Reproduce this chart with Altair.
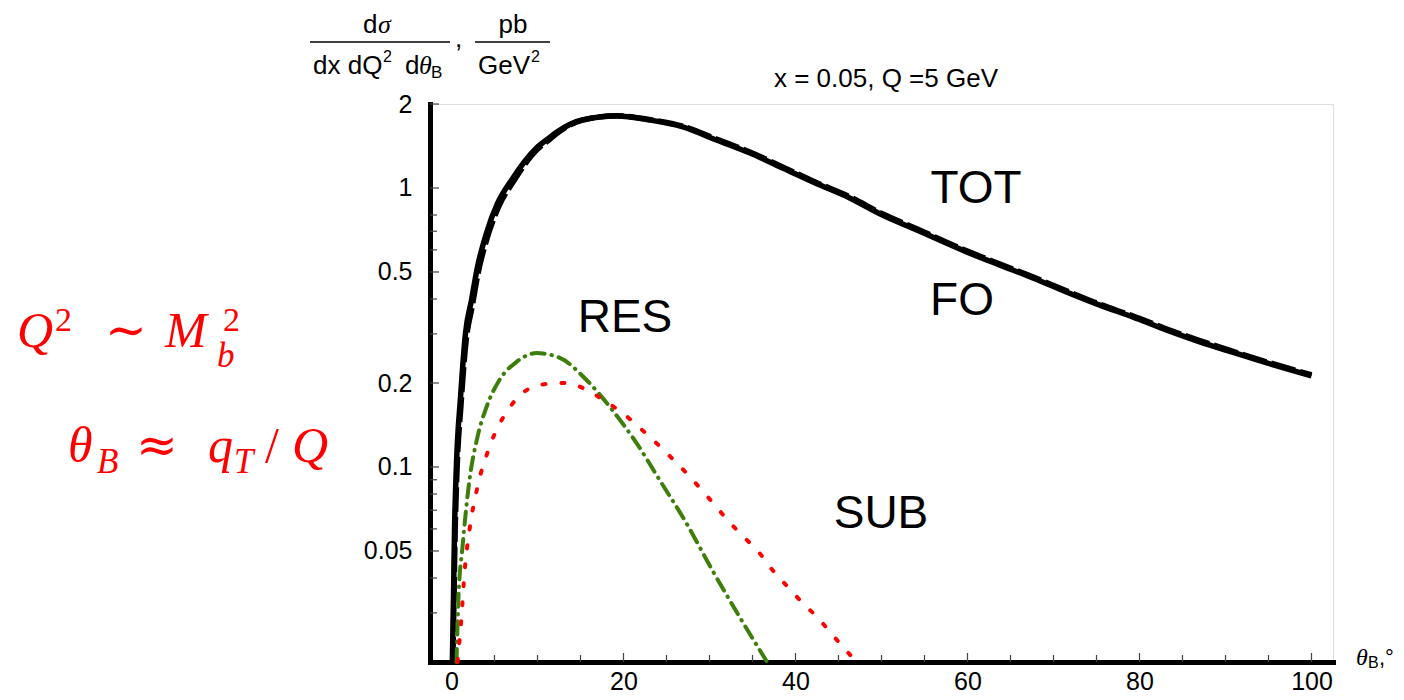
import altair as alt
import pandas as pd

# ---- data ----
tot_x = [0.1, 0.23, 0.35, 0.58, 1.05, 1.63, 2.33, 3.02, 4.07, 5.35, 7.09, 9.88, 11.4, 12.3,
         15.2, 19.2, 23.0, 26.9, 30.8, 34.7, 38.5, 42.3, 46.3, 50.1, 54.1, 59.9, 63.7, 67.6,
         71.5, 75.3, 79.2, 83.1, 87.0, 90.8, 94.8, 100]
tot_y = [0.02, 0.034, 0.059, 0.103, 0.178, 0.302, 0.397, 0.521, 0.69, 0.88, 1.08, 1.39, 1.515, 1.59,
         1.753, 1.812, 1.753, 1.655, 1.486, 1.334, 1.18, 1.042, 0.921, 0.8, 0.707, 0.59, 0.53, 0.476,
         0.424, 0.381, 0.345, 0.31, 0.281, 0.258, 0.236, 0.212]
fo_x = [0.15, 0.27, 0.4, 0.63, 1.1, 1.7, 2.4, 3.1, 4.15, 5.45, 7.2, 9.95, 11.5, 12.4,
        15.2, 19.2, 23.0, 26.9, 30.8, 34.7, 38.5, 42.3, 46.3, 50.1, 54.1, 59.9, 63.7, 67.6,
        71.5, 75.3, 79.2, 83.1, 87.0, 90.8, 94.8, 100]
fo_y = [0.02, 0.031, 0.054, 0.095, 0.166, 0.283, 0.375, 0.496, 0.662, 0.852, 1.055, 1.372, 1.5, 1.58,
        1.75, 1.815, 1.76, 1.665, 1.497, 1.345, 1.19, 1.05, 0.93, 0.808, 0.714, 0.595, 0.535, 0.48,
        0.428, 0.384, 0.348, 0.313, 0.284, 0.26, 0.238, 0.214]
res_x = [0.58, 0.81, 1.28, 2.09, 3.02, 4.07, 5.58, 7.56, 9.88, 12.6, 15.7, 18.7, 21.5, 24.2,
         27.3, 30.3, 33.5, 36.7]
res_y = [0.02, 0.034, 0.0517, 0.0898, 0.128, 0.164, 0.205, 0.238, 0.256, 0.246, 0.205, 0.16, 0.122,
         0.0898, 0.063, 0.0428, 0.029, 0.02]
sub_x = [0.7, 1.16, 1.51, 2.09, 3.02, 4.42, 6.74, 8.26, 10.8, 13.4, 15.7, 18.0, 19.9, 21.9, 23.8,
         25.6, 27.3, 29.1, 30.6, 32.3, 34.1, 35.8, 37.3, 39.1, 40.8, 42.6, 44.3, 47.1]
sub_y = [0.02, 0.029, 0.0417, 0.0594, 0.0848, 0.118, 0.163, 0.184, 0.198, 0.2, 0.189, 0.171, 0.156,
         0.138, 0.122, 0.1077, 0.0952, 0.0827, 0.0731, 0.0635, 0.0557, 0.0492, 0.0428, 0.0372,
         0.0326, 0.0288, 0.025, 0.02]

y_major = [0.05, 0.1, 0.2, 0.5, 1, 2]
y_minor = [0.03, 0.04, 0.06, 0.07, 0.08, 0.09, 0.3, 0.4, 0.6, 0.7, 0.8]
x_major = [0, 20, 40, 60, 80, 100]
x_minor = [5, 10, 15, 25, 30, 35, 45, 50, 55, 65, 70, 75, 85, 90, 95]

# ---- layout ----
W, H = 903, 558
SANS = "Liberation Sans"
SERIF = "Liberation Serif, DejaVu Serif"
MATH = "DejaVu Serif"

xscale = alt.Scale(domain=[-2.5, 102.5], nice=False, zero=False)
yscale = alt.Scale(type="log", domain=[0.02, 2], nice=False)

x_axis = alt.Axis(values=x_major, title=None, grid=False, ticks=False, domainColor="black",
                  domainWidth=5, domainCap="square", labelFont=SANS, labelFontSize=25,
                  labelColor="black", labelPadding=7, labelFlush=False, format="d")
y_axis = alt.Axis(values=y_major, title=None, grid=False, ticks=False, domainColor="black",
                  domainWidth=5, domainCap="square", labelFont=SANS, labelFontSize=25,
                  labelColor="black", labelPadding=18, labelFlush=False,
                  labelExpr="'' + datum.value")


def X(field):
    return alt.X(field, scale=xscale, axis=x_axis, title=None)


def Y(field):
    return alt.Y(field, scale=yscale, axis=y_axis, title=None)


def curve(xs, ys, color, width, dash=None, cap="butt"):
    df = pd.DataFrame({"x": xs, "y": ys})
    kw = dict(color=color, strokeWidth=width, interpolate="monotone", strokeCap=cap)
    if dash:
        kw["strokeDash"] = dash
    return alt.Chart(df).mark_line(**kw).encode(
        x=X("x:Q"), y=Y("y:Q"), order=alt.Order("x:Q"))


def yticks(vals, length):
    return alt.Chart(pd.DataFrame({"y": vals})).mark_rule(color="#444", strokeWidth=1.2).encode(
        y=Y("y:Q"), x=alt.value(0), x2=alt.value(length))


def xticks(vals, length):
    return alt.Chart(pd.DataFrame({"x": vals})).mark_rule(color="#444", strokeWidth=1.2).encode(
        x=X("x:Q"), y=alt.value(H), y2=alt.value(H - length))


def txt(s, x, y, size=24, font=SANS, style="normal", color="black", align="left"):
    return alt.Chart(pd.DataFrame({"t": [s]})).mark_text(
        align=align, baseline="alphabetic", font=font, fontSize=size, fontStyle=style,
        color=color).encode(text="t:N", x=alt.value(x), y=alt.value(y))


def hline(x1, x2, y):
    return alt.Chart(pd.DataFrame({"a": [0]})).mark_rule(color="black", strokeWidth=1.3).encode(
        x=alt.value(x1), x2=alt.value(x2), y=alt.value(y))


RED = "#ff0000"
layers = [
    curve(tot_x, tot_y, "black", 5.5),
    yticks(y_major, 9), yticks(y_minor, 7), xticks(x_major, 9), xticks(x_minor, 7),
    curve(fo_x, fo_y, "black", 5.5, dash=[25, 5]),
    curve(res_x, res_y, "#3d7f0a", 4, dash=[13, 7, 0.5, 7], cap="round"),
    curve(sub_x, sub_y, RED, 4, dash=[3, 16], cap="round"),
    # curve labels
    txt("TOT", 546, 99, size=46, align="center"),
    txt("FO", 532, 211, size=46, align="center"),
    txt("RES", 195, 228, size=46, align="center"),
    txt("SUB", 451, 424, size=46, align="center"),
    # title
    txt("x = 0.05, Q =5 GeV", 456, -17, size=26, align="center"),
    # y axis title (fraction)
    txt("d", -67, -71, size=26),
    txt("σ", -52, -71, size=26, font=SERIF, style="italic"),
    hline(-120, 20, -62),
    txt("dx dQ", -117, -30, size=26),
    txt("2", -47, -42, size=16),
    txt("d", -25, -30, size=26),
    txt("θ", -11, -30, size=26, font=SERIF, style="italic"),
    txt("B", 1, -26, size=17),
    txt(",", 25, -57, size=26),
    txt("pb", 83, -71, size=26, align="center"),
    hline(45, 120, -62),
    txt("GeV", 48, -30, size=26),
    txt("2", 101, -42, size=16),
    # x axis title
    txt("θ", 926, 561, size=24, font=SERIF, style="italic"),
    txt("B", 938, 564, size=16),
    txt(",°", 949, 561, size=22),
    # red formulas
    txt("Q", -413, 243, size=50, font=SERIF, style="italic", color=RED),
    txt("2", -375, 227, size=34, font=SERIF, color=RED),
    txt("∼", -325, 243, size=50, font=MATH, color=RED),
    txt("M", -265, 243, size=50, font=SERIF, style="italic", color=RED),
    txt("b", -213, 263, size=35, font=SERIF, style="italic", color=RED),
    txt("2", -207, 227, size=34, font=SERIF, color=RED),
    txt("θ", -362, 358, size=50, font=SERIF, style="italic", color=RED),
    txt("B", -333, 369, size=35, font=SERIF, style="italic", color=RED),
    txt("≈", -294, 358, size=50, font=MATH, color=RED),
    txt("q", -222, 358, size=50, font=SERIF, style="italic", color=RED),
    txt("T", -196, 369, size=35, font=SERIF, style="italic", color=RED),
    txt("/", -165, 358, size=50, font=SERIF, color=RED),
    txt("Q", -138, 358, size=50, font=SERIF, style="italic", color=RED),
]

chart = alt.layer(*layers).properties(
    width=W, height=H,
    autosize=alt.AutoSizeParams(type="none"),
    padding={"left": 422, "top": 96, "right": 63, "bottom": 30},
).configure_view(strokeWidth=0, stroke="transparent").configure(background="white")

chart.save("out.html", embed_options={"renderer": "svg", "actions": False})
